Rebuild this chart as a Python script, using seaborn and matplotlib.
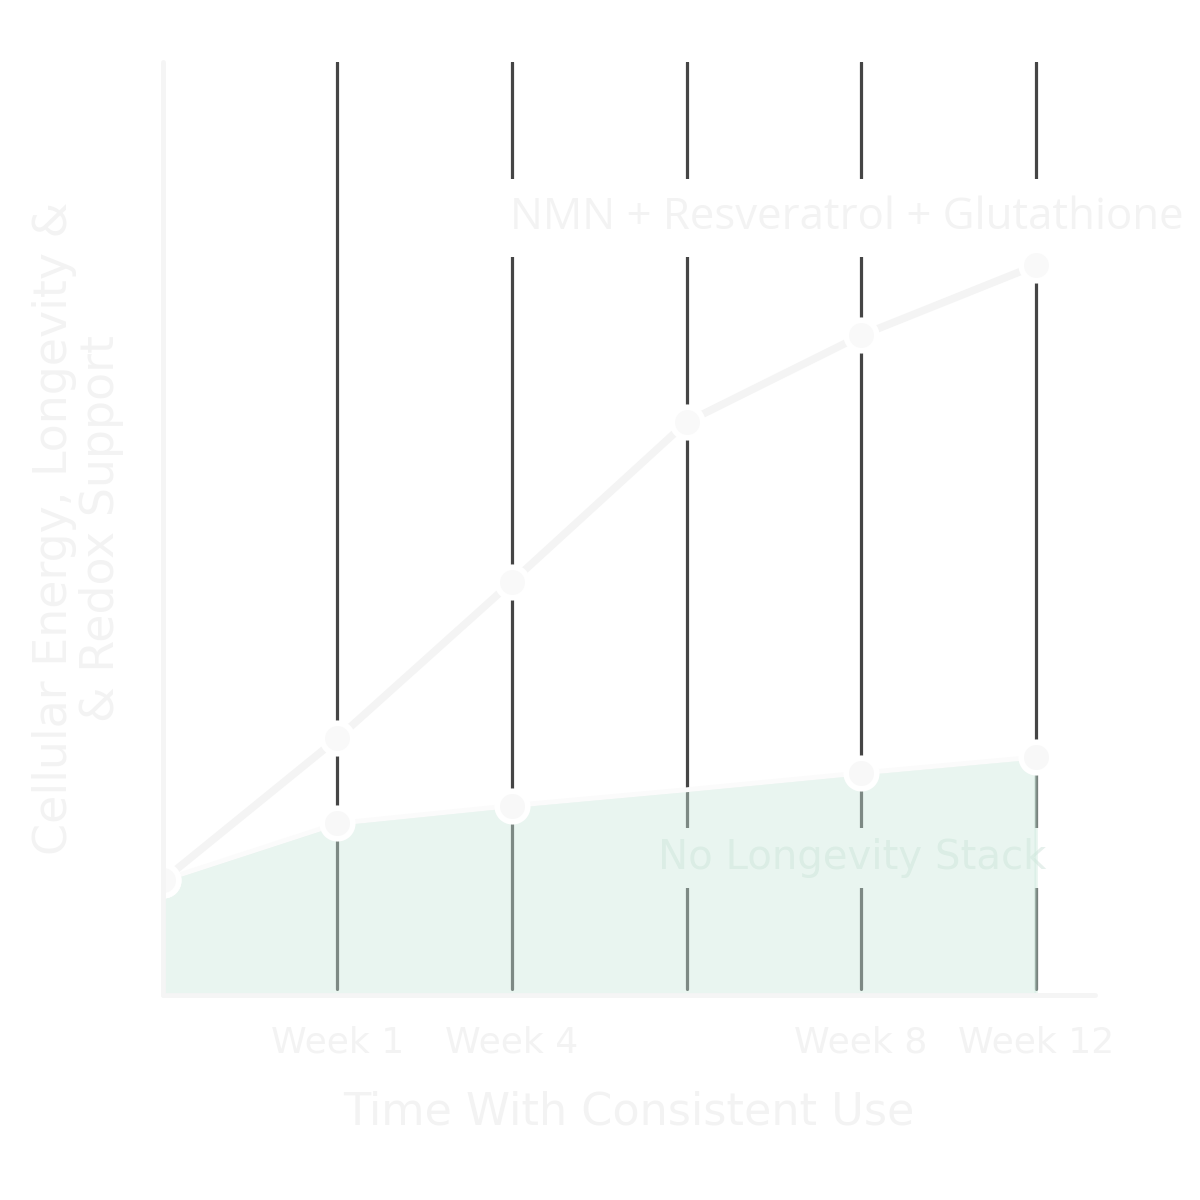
import seaborn as sns
import matplotlib.pyplot as plt
import pandas as pd

# chart data
steps = [0, 1, 2, 3, 4, 5]
tick_labels = ["", "Week 1", "Week 4", "", "Week 8", "Week 12"]
stack_values = [12.3, 27.5, 44.3, 61.4, 70.7, 78.2]
no_stack_values = [12.3, 18.4, 20.3, 22.0, 23.8, 25.5]

df = pd.DataFrame({"step": steps, "stack": stack_values, "none": no_stack_values})

sns.set_theme(style="white")
plt.rcParams["font.family"] = ["DejaVu Sans"]

text_col = "#f3f3f3"

fig = plt.figure(figsize=(12, 12), dpi=100)
ax = fig.add_axes([0.1358, 0.1708, 0.7767, 0.7775])

# dark vertical grid lines
for s in steps[1:]:
    ax.axvline(s, ymin=0.006, ymax=1.0, color="#454545", lw=2.3,
               solid_capstyle="round", zorder=1)

# labels inside the plot, with white boxes that cut the grid lines
ax.text(1.99, 83.3, "NMN + Resveratrol + Glutathione", fontsize=31.5,
        family="Open Sans", color=text_col, ha="left", va="center", zorder=2,
        bbox=dict(boxstyle="square,pad=0.38", fc="white", ec="none"))
ax.text(3.95, 14.7, "No Longevity Stack", fontsize=29,
        color="#e6f0ec", ha="center", va="center", zorder=2,
        bbox=dict(boxstyle="square,pad=0.25", fc="white", ec="none"))

# shaded baseline area
ax.fill_between(df["step"], 0, df["none"], facecolor="#cce9dc",
                edgecolor="#cce9dc", alpha=0.42, lw=2.5, zorder=3)

sns.lineplot(data=df, x="step", y="none", ax=ax, color="#fbfbfb", lw=3.5,
             marker="o", markersize=22, markerfacecolor="#f8f8f8",
             markeredgecolor="white", markeredgewidth=4,
             markevery=[0, 1, 2, 4, 5], zorder=4)
sns.lineplot(data=df, x="step", y="stack", ax=ax, color="#f4f4f4", lw=5.5,
             marker="o", markersize=22, markerfacecolor="#f9f9f9",
             markeredgecolor="white", markeredgewidth=4, zorder=5)

ax.set_xlim(0, 5.34)
ax.set_ylim(0, 100)
ax.set_xticks(steps)
ax.set_xticklabels(tick_labels, fontsize=26, color=text_col)
ax.set_yticks([])
ax.tick_params(axis="x", length=0, pad=22)

ax.set_xlabel("Time With Consistent Use", fontsize=32, color=text_col,
              labelpad=22)
ax.set_ylabel("Cellular Energy, Longevity &\n& Redox Support", fontsize=33,
              color=text_col, labelpad=28, linespacing=1.05)

sns.despine(ax=ax)
for side in ["left", "bottom"]:
    ax.spines[side].set_color("#f5f5f5")
    ax.spines[side].set_linewidth(3.5)
    ax.spines[side].set_capstyle("round")
    ax.spines[side].set_zorder(6)

fig.savefig("out.png", dpi=100, facecolor="white")
